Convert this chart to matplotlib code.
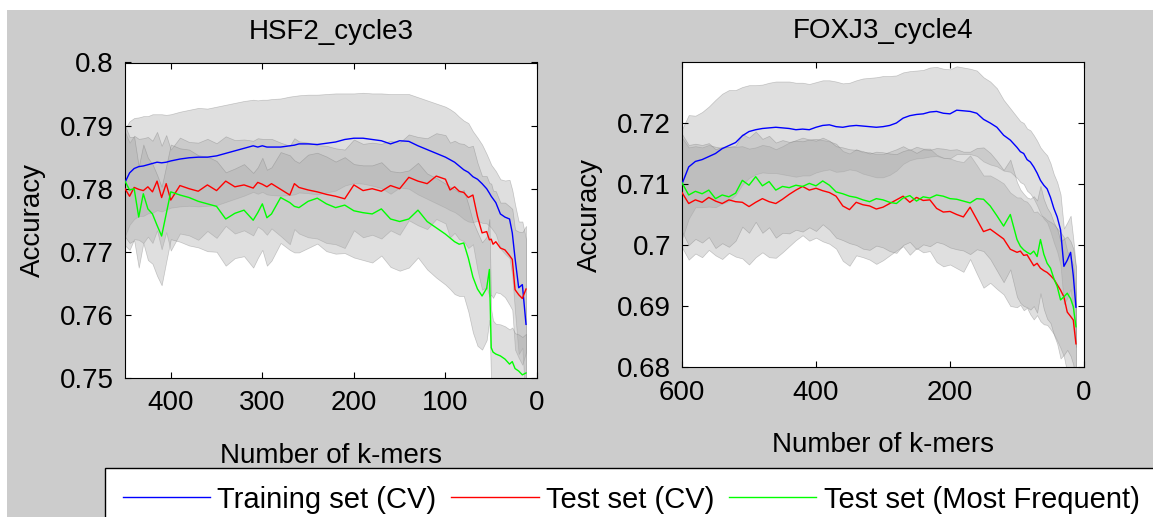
import numpy as np
import matplotlib
matplotlib.use("Agg")
import matplotlib.pyplot as plt
from matplotlib.patches import Rectangle
from matplotlib.ticker import FormatStrFormatter

plt.rcParams['font.family'] = ['Liberation Sans', 'DejaVu Sans']
plt.rcParams['font.size'] = 20

# ---------------- HSF2_cycle3 (left) ----------------
kmers_L = [450, 445, 440, 435, 430, 425, 420, 415, 410, 405, 400, 390, 380, 370, 360,
           350, 340, 330, 320, 310, 305, 300, 295, 290, 280, 270, 265, 260, 250, 240,
           230, 220, 210, 200, 190, 180, 170, 160, 150, 140, 130, 120, 110, 100, 95,
           90, 85, 80, 75, 70, 65, 60, 55, 52, 50, 48, 45, 40, 35, 30, 27, 24, 20, 16, 12]

train_L = [0.7810, 0.7825, 0.7832, 0.7835, 0.7836, 0.7838, 0.7840, 0.7842, 0.7841, 0.7842,
           0.7844, 0.7847, 0.7849, 0.7850, 0.7850, 0.7852, 0.7856, 0.7860, 0.7864, 0.7868,
           0.7866, 0.7868, 0.7866, 0.7866, 0.7866, 0.7868, 0.7869, 0.7871, 0.7871, 0.7870,
           0.7872, 0.7874, 0.7878, 0.7880, 0.7880, 0.7878, 0.7876, 0.7871, 0.7876, 0.7875,
           0.7868, 0.7862, 0.7856, 0.7850, 0.7846, 0.7842, 0.7836, 0.7830, 0.7826, 0.7819,
           0.7815, 0.7808, 0.7800, 0.7793, 0.7788, 0.7784, 0.7778, 0.7760, 0.7755, 0.7752,
           0.7730, 0.7690, 0.7643, 0.7648, 0.7585]

test_L = [0.7800, 0.7788, 0.7802, 0.7799, 0.7797, 0.7803, 0.7795, 0.7812, 0.7786, 0.7808,
          0.7782, 0.7805, 0.7800, 0.7796, 0.7806, 0.7797, 0.7812, 0.7803, 0.7806, 0.7801,
          0.7810, 0.7807, 0.7803, 0.7808, 0.7799, 0.7790, 0.7808, 0.7802, 0.7798, 0.7795,
          0.7791, 0.7788, 0.7784, 0.7806, 0.7797, 0.7800, 0.7796, 0.7805, 0.7800, 0.7818,
          0.7812, 0.7808, 0.7820, 0.7815, 0.7798, 0.7803, 0.7796, 0.7794, 0.7786, 0.7790,
          0.7756, 0.7730, 0.7732, 0.7719, 0.7720, 0.7712, 0.7716, 0.7706, 0.7703, 0.7694,
          0.7688, 0.7640, 0.7632, 0.7626, 0.7641]

freq_L = [0.7812, 0.7798, 0.7800, 0.7755, 0.7792, 0.7768, 0.7760, 0.7742, 0.7725, 0.7760,
          0.7795, 0.7790, 0.7786, 0.7780, 0.7776, 0.7772, 0.7752, 0.7761, 0.7766, 0.7750,
          0.7762, 0.7776, 0.7754, 0.7760, 0.7786, 0.7778, 0.7772, 0.7770, 0.7780, 0.7785,
          0.7776, 0.7770, 0.7774, 0.7765, 0.7762, 0.7760, 0.7768, 0.7752, 0.7748, 0.7752,
          0.7766, 0.7748, 0.7738, 0.7728, 0.7722, 0.7716, 0.7712, 0.7714, 0.7690, 0.7660,
          0.7641, 0.7630, 0.7642, 0.7672, 0.7548, 0.7541, 0.7538, 0.7535, 0.7530, 0.7522,
          0.7526, 0.7515, 0.7511, 0.7505, 0.7508]

sd_train_L = [0.0085, 0.0082, 0.0080, 0.0078, 0.0079, 0.0077, 0.0078, 0.0076, 0.0077, 0.0075,
              0.0074, 0.0075, 0.0076, 0.0078, 0.0077, 0.0078, 0.0077, 0.0076, 0.0075, 0.0073,
              0.0074, 0.0073, 0.0075, 0.0076, 0.0077, 0.0078, 0.0078, 0.0077, 0.0078, 0.0079,
              0.0078, 0.0077, 0.0073, 0.0071, 0.0072, 0.0073, 0.0075, 0.0079, 0.0074, 0.0075,
              0.0077, 0.0078, 0.0079, 0.0080, 0.0080, 0.0079, 0.0078, 0.0078, 0.0078, 0.0072,
              0.0066, 0.0062, 0.0055, 0.0052, 0.0050, 0.0050, 0.0050, 0.0055, 0.0058, 0.0062,
              0.0068, 0.0085, 0.0105, 0.0100, 0.0135]

sd_test_L = [0.0090, 0.0085, 0.0082, 0.0080, 0.0083, 0.0079, 0.0081, 0.0078, 0.0082, 0.0077,
             0.0080, 0.0076, 0.0074, 0.0077, 0.0073, 0.0075, 0.0071, 0.0074, 0.0072, 0.0075,
             0.0070, 0.0072, 0.0076, 0.0071, 0.0074, 0.0078, 0.0072, 0.0073, 0.0075, 0.0074,
             0.0077, 0.0076, 0.0078, 0.0072, 0.0074, 0.0073, 0.0075, 0.0071, 0.0073, 0.0068,
             0.0070, 0.0072, 0.0068, 0.0070, 0.0075, 0.0073, 0.0076, 0.0077, 0.0080, 0.0078,
             0.0085, 0.0090, 0.0088, 0.0090, 0.0088, 0.0085, 0.0080, 0.0072, 0.0075, 0.0078,
             0.0080, 0.0095, 0.0100, 0.0105, 0.0100]

sd_freq_L = [0.0088, 0.0084, 0.0082, 0.0080, 0.0078, 0.0081, 0.0079, 0.0080, 0.0078, 0.0076,
             0.0075, 0.0074, 0.0076, 0.0073, 0.0075, 0.0072, 0.0074, 0.0071, 0.0073, 0.0075,
             0.0072, 0.0073, 0.0076, 0.0074, 0.0072, 0.0075, 0.0073, 0.0071, 0.0074, 0.0072,
             0.0075, 0.0073, 0.0076, 0.0074, 0.0075, 0.0077, 0.0074, 0.0076, 0.0078, 0.0077,
             0.0075, 0.0076, 0.0079, 0.0080, 0.0081, 0.0083, 0.0082, 0.0084, 0.0085, 0.0088,
             0.0090, 0.0085, 0.0082, 0.0080, 0.0060, 0.0050, 0.0048, 0.0050, 0.0052, 0.0055,
             0.0054, 0.0056, 0.0058, 0.0060, 0.0062]

# ---------------- FOXJ3_cycle4 (right) ----------------
kmers_R = [600, 590, 580, 570, 560, 550, 540, 530, 520, 510, 500, 490, 480, 470, 460,
           450, 440, 430, 420, 410, 400, 390, 380, 370, 360, 350, 340, 330, 320, 310,
           300, 290, 280, 270, 260, 250, 240, 230, 220, 210, 200, 190, 180, 170, 160,
           150, 140, 130, 120, 110, 100, 95, 90, 85, 80, 75, 70, 65, 60, 55,
           50, 45, 40, 35, 30, 25, 20, 16, 12]

train_R = [0.7100, 0.7128, 0.7137, 0.7140, 0.7145, 0.7150, 0.7158, 0.7163, 0.7168, 0.7179,
           0.7186, 0.7189, 0.7191, 0.7192, 0.7193, 0.7192, 0.7191, 0.7189, 0.7190, 0.7189,
           0.7193, 0.7196, 0.7197, 0.7194, 0.7193, 0.7195, 0.7196, 0.7195, 0.7194, 0.7193,
           0.7194, 0.7196, 0.7200, 0.7208, 0.7212, 0.7214, 0.7215, 0.7218, 0.7219, 0.7216,
           0.7215, 0.7221, 0.7220, 0.7219, 0.7216, 0.7206, 0.7200, 0.7193, 0.7180, 0.7172,
           0.7160, 0.7153, 0.7150, 0.7140, 0.7136, 0.7128, 0.7118, 0.7106, 0.7098, 0.7092,
           0.7078, 0.7060, 0.7046, 0.7025, 0.6965, 0.6975, 0.6988, 0.6950, 0.6898]

test_R = [0.7086, 0.7068, 0.7074, 0.7070, 0.7078, 0.7072, 0.7068, 0.7074, 0.7071, 0.7070,
          0.7063, 0.7070, 0.7076, 0.7071, 0.7068, 0.7075, 0.7083, 0.7090, 0.7096, 0.7090,
          0.7093, 0.7089, 0.7086, 0.7080, 0.7064, 0.7058, 0.7070, 0.7066, 0.7064, 0.7059,
          0.7062, 0.7068, 0.7074, 0.7080, 0.7070, 0.7078, 0.7073, 0.7074, 0.7060, 0.7054,
          0.7055, 0.7050, 0.7046, 0.7062, 0.7042, 0.7022, 0.7026, 0.7018, 0.7010, 0.6993,
          0.6988, 0.6990, 0.6983, 0.6984, 0.6975, 0.6966, 0.6970, 0.6962, 0.6958, 0.6955,
          0.6950, 0.6944, 0.6935, 0.6926, 0.6915, 0.6890, 0.6883, 0.6877, 0.6838]

freq_R = [0.7102, 0.7082, 0.7088, 0.7084, 0.7090, 0.7076, 0.7082, 0.7079, 0.7085, 0.7106,
          0.7098, 0.7112, 0.7097, 0.7104, 0.7090, 0.7096, 0.7094, 0.7098, 0.7096, 0.7101,
          0.7097, 0.7105, 0.7098, 0.7087, 0.7084, 0.7080, 0.7078, 0.7074, 0.7071, 0.7076,
          0.7074, 0.7070, 0.7068, 0.7077, 0.7081, 0.7072, 0.7079, 0.7077, 0.7082, 0.7080,
          0.7076, 0.7075, 0.7072, 0.7069, 0.7076, 0.7075, 0.7064, 0.7048, 0.7031, 0.7050,
          0.7009, 0.6998, 0.6992, 0.6988, 0.6985, 0.6990, 0.6981, 0.7009, 0.6985, 0.6970,
          0.6962, 0.6945, 0.6932, 0.6910, 0.6915, 0.6921, 0.6912, 0.6899, 0.6866]

sd_train_R = [0.0090, 0.0085, 0.0075, 0.0078, 0.0082, 0.0088, 0.0090, 0.0091, 0.0086, 0.0080,
              0.0076, 0.0073, 0.0072, 0.0074, 0.0075, 0.0076, 0.0077, 0.0077, 0.0076, 0.0075,
              0.0074, 0.0074, 0.0073, 0.0074, 0.0072, 0.0071, 0.0074, 0.0078, 0.0080, 0.0082,
              0.0083, 0.0081, 0.0078, 0.0075, 0.0073, 0.0072, 0.0072, 0.0073, 0.0073, 0.0073,
              0.0073, 0.0072, 0.0071, 0.0070, 0.0070, 0.0069, 0.0068, 0.0064, 0.0058, 0.0052,
              0.0050, 0.0050, 0.0050, 0.0051, 0.0052, 0.0052, 0.0053, 0.0054, 0.0055, 0.0055,
              0.0056, 0.0056, 0.0057, 0.0058, 0.0062, 0.0062, 0.0060, 0.0060, 0.0065]

sd_test_R = [0.0090, 0.0092, 0.0088, 0.0090, 0.0086, 0.0089, 0.0091, 0.0087, 0.0090, 0.0092,
             0.0095, 0.0090, 0.0088, 0.0091, 0.0089, 0.0087, 0.0085, 0.0082, 0.0080, 0.0083,
             0.0081, 0.0083, 0.0084, 0.0086, 0.0090, 0.0092, 0.0087, 0.0086, 0.0088, 0.0090,
             0.0087, 0.0085, 0.0083, 0.0082, 0.0086, 0.0083, 0.0085, 0.0084, 0.0088, 0.0089,
             0.0087, 0.0088, 0.0090, 0.0085, 0.0089, 0.0092, 0.0088, 0.0090, 0.0091, 0.0093,
             0.0090, 0.0088, 0.0090, 0.0087, 0.0089, 0.0088, 0.0085, 0.0087, 0.0088, 0.0086,
             0.0088, 0.0090, 0.0092, 0.0095, 0.0098, 0.0100, 0.0095, 0.0090, 0.0080]

sd_freq_R = [0.0080, 0.0082, 0.0078, 0.0080, 0.0077, 0.0081, 0.0079, 0.0082, 0.0078, 0.0076,
             0.0078, 0.0074, 0.0077, 0.0075, 0.0078, 0.0076, 0.0075, 0.0073, 0.0074, 0.0072,
             0.0074, 0.0071, 0.0073, 0.0075, 0.0076, 0.0077, 0.0078, 0.0080, 0.0079, 0.0077,
             0.0078, 0.0080, 0.0081, 0.0077, 0.0076, 0.0079, 0.0078, 0.0079, 0.0077, 0.0078,
             0.0080, 0.0082, 0.0081, 0.0084, 0.0083, 0.0085, 0.0087, 0.0090, 0.0092, 0.0090,
             0.0094, 0.0093, 0.0092, 0.0090, 0.0091, 0.0090, 0.0092, 0.0088, 0.0090, 0.0091,
             0.0090, 0.0092, 0.0094, 0.0096, 0.0095, 0.0093, 0.0094, 0.0095, 0.0098]

labels = ['Training set (CV)', 'Test set (CV)', 'Test set (Most Frequent)']
colors = ['#0000ff', '#ff0000', '#00ff00']

W, H = 1153, 517
fig = plt.figure(figsize=(W / 100, H / 100), dpi=100, facecolor='white')
# grey MATLAB figure area (thin white margin on top and left)
fig.add_artist(Rectangle((7 / W, 0), 1, 1 - 10 / H, transform=fig.transFigure,
                         facecolor='#cccccc', edgecolor='none', zorder=-10))

axL = fig.add_axes([125 / W, 1 - 378 / H, 412 / W, 315.5 / H])
axR = fig.add_axes([682 / W, 1 - 367 / H, 402 / W, 305 / H])


def draw_panel(ax, x, curves, sds, title, xlim, ylim, xticks, yticks):
    x = np.array(x)
    # shaded +-sd bands first
    for c, s in zip(curves, sds):
        c = np.array(c)
        s = np.array(s)
        ax.fill_between(x, c - s, c + s, facecolor='#aaaaaa', edgecolor='#777777',
                        linewidth=0.5, alpha=0.375, zorder=1)
    lines = []
    for c, col, lab in zip(curves, colors, labels):
        ln, = ax.plot(x, c, color=col, lw=1.0, label=lab, zorder=3)
        lines.append(ln)
    ax.set_xlim(*xlim)
    ax.set_ylim(*ylim)
    ax.set_xticks(xticks)
    ax.set_yticks(yticks)
    ax.yaxis.set_major_formatter(FormatStrFormatter('%g'))
    ax.tick_params(direction='in', top=True, right=True, length=4, width=0.8,
                   labelsize=20)
    ax.tick_params(axis='y', pad=8)
    ax.tick_params(axis='x', pad=9)
    for sp in ax.spines.values():
        sp.set_linewidth(0.8)
    ax.set_title(title, fontsize=20, pad=17)
    ax.set_xlabel('Number of k-mers', fontsize=20, labelpad=19)
    ax.set_ylabel('Accuracy', fontsize=20, labelpad=10)
    return lines


lines = draw_panel(axL, kmers_L, [train_L, test_L, freq_L],
                   [sd_train_L, sd_test_L, sd_freq_L], 'HSF2_cycle3',
                   (450, 0), (0.75, 0.80), [0, 100, 200, 300, 400],
                   [0.75, 0.76, 0.77, 0.78, 0.79, 0.80])
draw_panel(axR, kmers_R, [train_R, test_R, freq_R],
           [sd_train_R, sd_test_R, sd_freq_R], 'FOXJ3_cycle4',
           (600, 0), (0.68, 0.73), [0, 200, 400, 600],
           [0.68, 0.69, 0.70, 0.71, 0.72])

leg = fig.legend(handles=lines, loc='upper left', bbox_to_anchor=(105 / W, 1 - 468 / H),
                 ncol=3, fontsize=21, frameon=True, fancybox=False, borderaxespad=0,
                 handlelength=3.0, handletextpad=0.25, columnspacing=0.5,
                 borderpad=0.6)
leg.get_frame().set_edgecolor('black')
leg.get_frame().set_linewidth(1.0)
leg.get_frame().set_facecolor('white')
leg.get_frame().set_alpha(1)

fig.savefig('out.png', dpi=100, facecolor=fig.get_facecolor())
